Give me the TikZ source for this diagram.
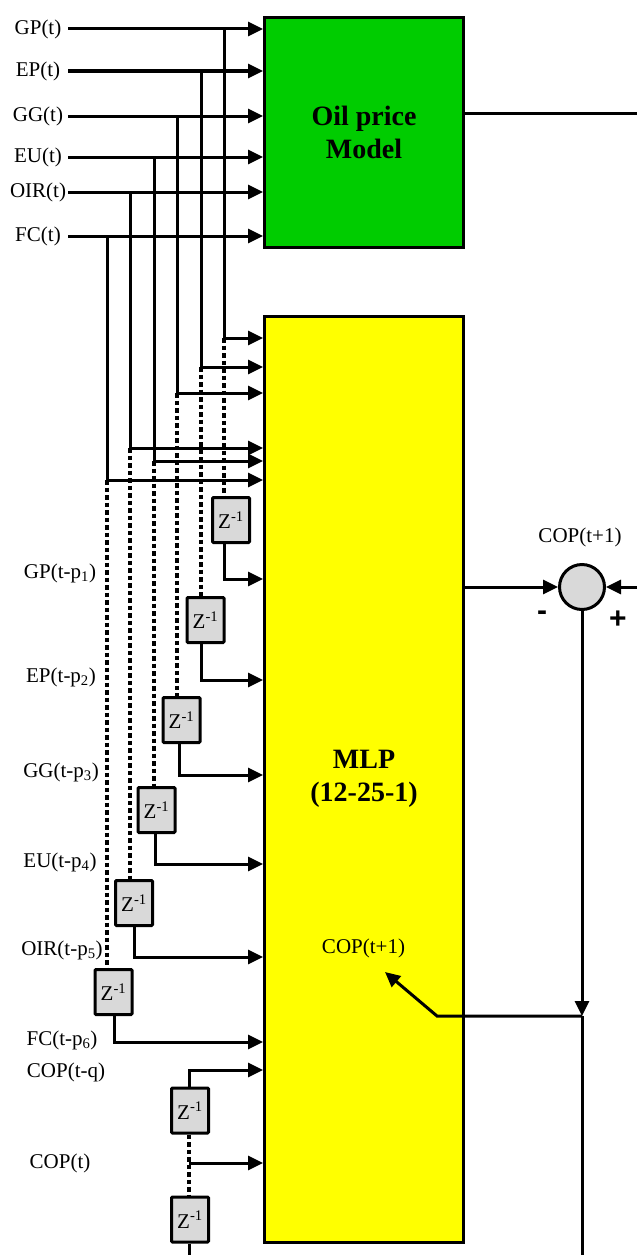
\documentclass[tikz,border=0pt]{standalone}
\usepackage{fontspec}
\setmainfont{Liberation Serif}
\newfontfamily\sansb{Liberation Sans}
\usetikzlibrary{arrows.meta}
\definecolor{oilgreen}{HTML}{00CC00}
\definecolor{mlpyellow}{HTML}{FFFF00}
\definecolor{zgray}{HTML}{D9D9D9}
\begin{document}
\begin{tikzpicture}[x=1pt,y=-1pt,
  ln/.style={line width=3pt},
  arr/.style={line width=3pt,-{Triangle[length=15pt,width=14pt]}},
  dots/.style={line width=3.2pt,dash pattern=on 4.5pt off 3pt},
  lab/.style={inner sep=0pt,font=\fontsize{21}{24}\selectfont},
  bigbox/.style={draw,line width=3pt,inner sep=0pt,align=center,font=\fontsize{28}{33}\selectfont\bfseries},
  zbox/.style={draw,line width=3pt,fill=zgray,minimum width=37pt,minimum height=45pt,inner sep=0pt,rounded corners=1pt,font=\fontsize{21}{24}\selectfont},
  sign/.style={inner sep=0pt,font=\fontsize{30}{32}\selectfont\sansb\bfseries}]
\useasboundingbox (0,0) rectangle (637,1255);

% boxes
\node[bigbox,fill=oilgreen,minimum width=199pt,minimum height=230pt] (opm) at (364,132.5) {Oil price\\Model};
\node[bigbox,fill=mlpyellow,minimum width=199pt,minimum height=926pt] (mlp) at (364,779) {MLP\\(12-25-1)};
\node[lab] (cin) at (363.5,948) {COP(t+1)};

% current inputs with taps
\foreach \n/\y/\x/\by in {GP/29/224/338, EP/71/201/367, GG/116/177/393, EU/157/154/461, OIR/192/130/448, FC/236/107/480} {
  \node[lab] (l\n) at (38,\y) {\n(t)};
  \coordinate (s\n) at (68,\y);
  \coordinate (t\n) at (\x,\y);
  \coordinate (b\n) at (\x,\by);
  \draw[arr] (s\n) -- (opm.west |- s\n);
  \draw[ln] (t\n) -- (b\n);
  \draw[arr] (b\n) -- (mlp.west |- b\n);
}

% delayed inputs
\foreach \n/\cx/\cy/\ox/\oy/\k/\lx/\ly in {GP/231/520/224/579/1/60/573, EP/205.5/620/201/680/2/61/677, GG/181.5/720/179/775/3/61/772, EU/156.5/810/155/864/4/60/862, OIR/134/903/134/957/5/62/950, FC/113.5/992/114/1042/6/62/1040} {
  \node[zbox] (z\n) at (\cx,\cy) {Z\textsuperscript{-1}};
  \node[lab] (d\n) at (\lx,\ly) {\n(t-p\textsubscript{\k})};
  \coordinate (o\n) at (\ox,\oy);
  \draw[dots] (b\n) -- (z\n.north -| b\n);
  \draw[arr] (z\n.south -| o\n) -- (o\n) -- (mlp.west |- o\n);
}

% COP chain
\node[lab] (lcq) at (66,1072) {COP(t-q)};
\node[lab] (lct) at (60,1163) {COP(t)};
\node[zbox] (zc1) at (190,1110.5) {Z\textsuperscript{-1}};
\node[zbox] (zc2) at (190,1219.5) {Z\textsuperscript{-1}};
\coordinate (cq) at (189,1070);
\coordinate (ct) at (189,1163);
\coordinate (cb) at (189,1255);
\draw[arr] (zc1.north -| cq) -- (cq) -- (mlp.west |- cq);
\draw[dots] (zc1.south -| ct) -- (zc2.north -| ct);
\draw[arr] (ct) -- (mlp.west |- ct);
\draw[ln] (zc2.south -| cb) -- (cb);

% oil price model output
\coordinate (oout) at (637,113);
\draw[ln] (opm.east |- oout) -- (oout);

% summing junction
\node[draw,circle,line width=3pt,fill=zgray,minimum size=45pt,inner sep=0pt] (sum) at (582,587) {};
\node[lab] (lsum) at (580,537) {COP(t+1)};
\node[sign] (minus) at (542,616) {-};
\node[sign] (plus) at (618,620) {+};
\coordinate (rin) at (637,587);
\draw[arr] (mlp.east |- sum) -- (sum.west);
\draw[arr] (rin) -- (sum.east);

% feedback
\coordinate (fb) at (582,1016);
\coordinate (fbk) at (437,1016);
\coordinate (fbt) at (385,972);
\coordinate (fbb) at (582,1255);
\draw[arr] (sum.south) -- (fb);
\draw[ln] (fb) -- (fbb);
\draw[arr] (fb) -- (fbk) -- (fbt);
\end{tikzpicture}
\end{document}
